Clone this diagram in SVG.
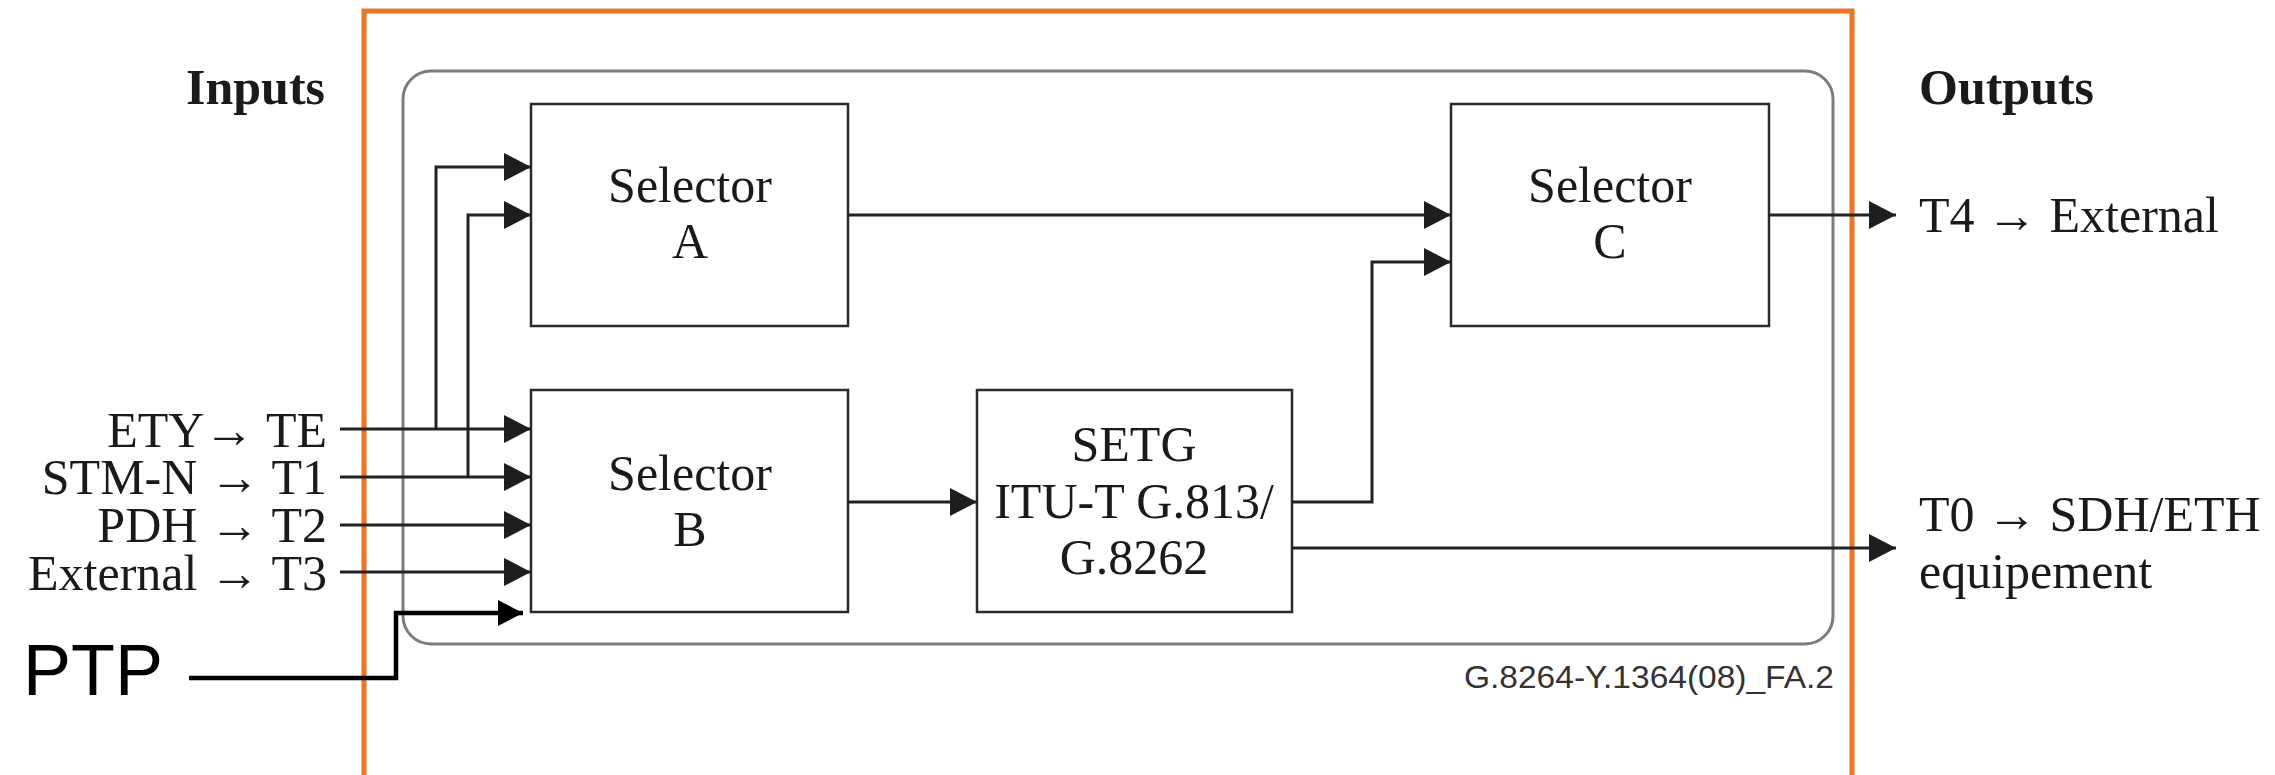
<svg xmlns="http://www.w3.org/2000/svg" width="2275" height="775" viewBox="0 0 2275 775">
<style>
.t{font-family:"Liberation Serif","Times New Roman",serif;font-size:50px;fill:#1a1a1a}
.b{font-weight:bold}
.box{fill:#fff;stroke:#2a2a2a;stroke-width:2.5}
.c{fill:none;stroke:#222;stroke-width:3}
.ptp{fill:none;stroke:#000;stroke-width:4.5}
</style>
<defs>
<marker id="ah" markerUnits="userSpaceOnUse" markerWidth="27" markerHeight="28" refX="27" refY="14" orient="auto">
<path d="M0,0 L27,14 L0,28 Z" fill="#1e1e1e"/>
</marker>
<marker id="ahp" markerUnits="userSpaceOnUse" markerWidth="25" markerHeight="26" refX="25" refY="13" orient="auto">
<path d="M0,0 L25,13 L0,26 Z" fill="#000"/>
</marker>
</defs>
<rect width="2275" height="775" fill="#fff"/>
<g id="frame">
<rect x="364" y="11" width="1488" height="800" fill="none" stroke="#ee7322" stroke-width="5"/>
<rect x="403" y="71" width="1430" height="573" rx="28" ry="28" fill="none" stroke="#7c7c7c" stroke-width="3"/>
<text x="1834" y="688" text-anchor="end" font-family="Liberation Sans,Arial,sans-serif" font-size="31" fill="#333" textLength="370" lengthAdjust="spacingAndGlyphs">G.8264-Y.1364(08)_FA.2</text>
</g>
<g id="labels">
<text class="t b" x="186" y="104">Inputs</text>
<text class="t b" x="1919" y="104">Outputs</text>
<text class="t" x="327" y="447" text-anchor="end">ETY→ TE</text>
<text class="t" x="327" y="494" text-anchor="end">STM-N → T1</text>
<text class="t" x="327" y="542" text-anchor="end">PDH → T2</text>
<text class="t" x="327" y="590" text-anchor="end">External → T3</text>
<text class="t" x="1919" y="232">T4 → External</text>
<text class="t" x="1919" y="531">T0 → SDH/ETH</text>
<text class="t" x="1919" y="588">equipement</text>
<text x="23" y="695" font-family="Liberation Sans,Arial,sans-serif" font-size="72" fill="#000">PTP</text>
</g>
<g id="selA">
<rect class="box" x="531" y="104" width="317" height="222"/>
<text class="t" x="690" y="202" text-anchor="middle">Selector</text>
<text class="t" x="690" y="258" text-anchor="middle">A</text>
</g>
<g id="selB">
<rect class="box" x="531" y="390" width="317" height="222"/>
<text class="t" x="690" y="490" text-anchor="middle">Selector</text>
<text class="t" x="690" y="546" text-anchor="middle">B</text>
</g>
<g id="setg">
<rect class="box" x="977" y="390" width="315" height="222"/>
<text class="t" x="1134" y="461" text-anchor="middle">SETG</text>
<text class="t" x="1134" y="518" text-anchor="middle">ITU-T G.813/</text>
<text class="t" x="1134" y="574" text-anchor="middle">G.8262</text>
</g>
<g id="selC">
<rect class="box" x="1451" y="104" width="318" height="222"/>
<text class="t" x="1610" y="202" text-anchor="middle">Selector</text>
<text class="t" x="1610" y="258" text-anchor="middle">C</text>
</g>
<g id="connectors">
<path class="c" d="M340,429 H531" marker-end="url(#ah)"/>
<path class="c" d="M340,477 H531" marker-end="url(#ah)"/>
<path class="c" d="M340,525 H531" marker-end="url(#ah)"/>
<path class="c" d="M340,572 H531" marker-end="url(#ah)"/>
<path class="c" d="M436,429 V167 H531" marker-end="url(#ah)"/>
<path class="c" d="M468,477 V215 H531" marker-end="url(#ah)"/>
<path class="c" d="M848,215 H1451" marker-end="url(#ah)"/>
<path class="c" d="M848,502 H977" marker-end="url(#ah)"/>
<path class="c" d="M1292,502 H1372 V262 H1451" marker-end="url(#ah)"/>
<path class="c" d="M1769,215 H1896" marker-end="url(#ah)"/>
<path class="c" d="M1292,548 H1896" marker-end="url(#ah)"/>
<path class="ptp" d="M189,678 H396 V613 H523" marker-end="url(#ahp)"/>
</g>
</svg>
